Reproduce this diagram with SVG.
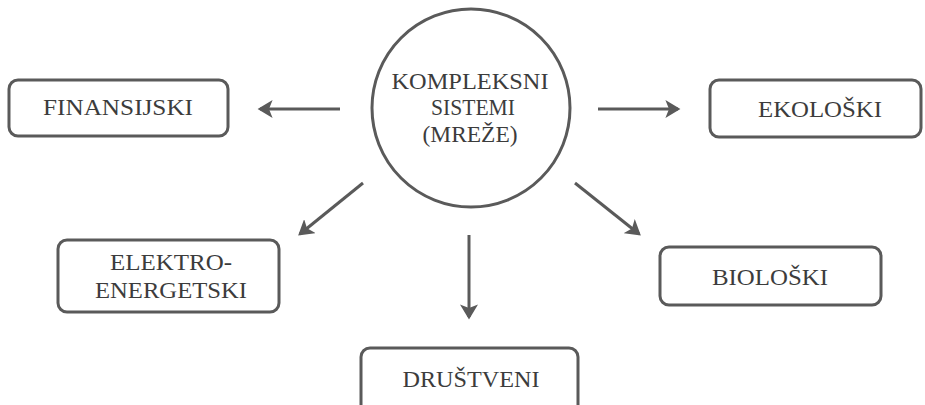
<svg xmlns="http://www.w3.org/2000/svg" width="925" height="405" viewBox="0 0 925 405">
<style>
.box{fill:#fff;stroke:#5a5a5a;stroke-width:3}
.t{font-family:"Liberation Serif","Times New Roman",serif;font-size:24px;fill:#3c3c3c;text-anchor:middle}
.c{stroke:#5a5a5a;stroke-width:3;fill:none;marker-end:url(#ah)}
</style>
<defs>
<marker id="ah" markerWidth="6" markerHeight="6" refX="4.2" refY="3" orient="auto" markerUnits="strokeWidth">
<path d="M0,0 L5,3 L0,6 L1.2,3 Z" fill="#5a5a5a"/>
</marker>
</defs>
<rect width="925" height="405" fill="#fff"/>
<g id="connectors">
<line class="c" x1="340" y1="109" x2="260" y2="109"/>
<line class="c" x1="598" y1="109" x2="678" y2="109"/>
<line class="c" x1="363" y1="183" x2="300" y2="234"/>
<line class="c" x1="575" y1="183" x2="639" y2="234"/>
<line class="c" x1="469" y1="235" x2="469" y2="317"/>
</g>
<g id="center">
<circle cx="471" cy="108" r="99" fill="#fff" stroke="#5a5a5a" stroke-width="3"/>
<text class="t" x="470" y="89" textLength="157" lengthAdjust="spacingAndGlyphs">KOMPLEKSNI</text>
<text class="t" x="473" y="115" textLength="84" lengthAdjust="spacingAndGlyphs">SISTEMI</text>
<text class="t" x="470" y="142" textLength="95" lengthAdjust="spacingAndGlyphs">(MREŽE)</text>
</g>
<g id="finansijski">
<rect class="box" x="9" y="80" width="219" height="56" rx="9"/>
<text class="t" x="118" y="115" textLength="150" lengthAdjust="spacingAndGlyphs">FINANSIJSKI</text>
</g>
<g id="ekoloski">
<rect class="box" x="710" y="80" width="211" height="57" rx="9"/>
<text class="t" x="820" y="117" textLength="124" lengthAdjust="spacingAndGlyphs">EKOLOŠKI</text>
</g>
<g id="elektro">
<rect class="box" x="58" y="240" width="221" height="72" rx="9"/>
<text class="t" x="171" y="270" textLength="122" lengthAdjust="spacingAndGlyphs">ELEKTRO-</text>
<text class="t" x="171" y="298" textLength="152" lengthAdjust="spacingAndGlyphs">ENERGETSKI</text>
</g>
<g id="bioloski">
<rect class="box" x="660" y="247" width="221" height="58" rx="9"/>
<text class="t" x="770" y="285" textLength="116" lengthAdjust="spacingAndGlyphs">BIOLOŠKI</text>
</g>
<g id="drustveni">
<rect class="box" x="361" y="348" width="217" height="70" rx="9"/>
<text class="t" x="471" y="387" textLength="137" lengthAdjust="spacingAndGlyphs">DRUŠTVENI</text>
</g>
</svg>
